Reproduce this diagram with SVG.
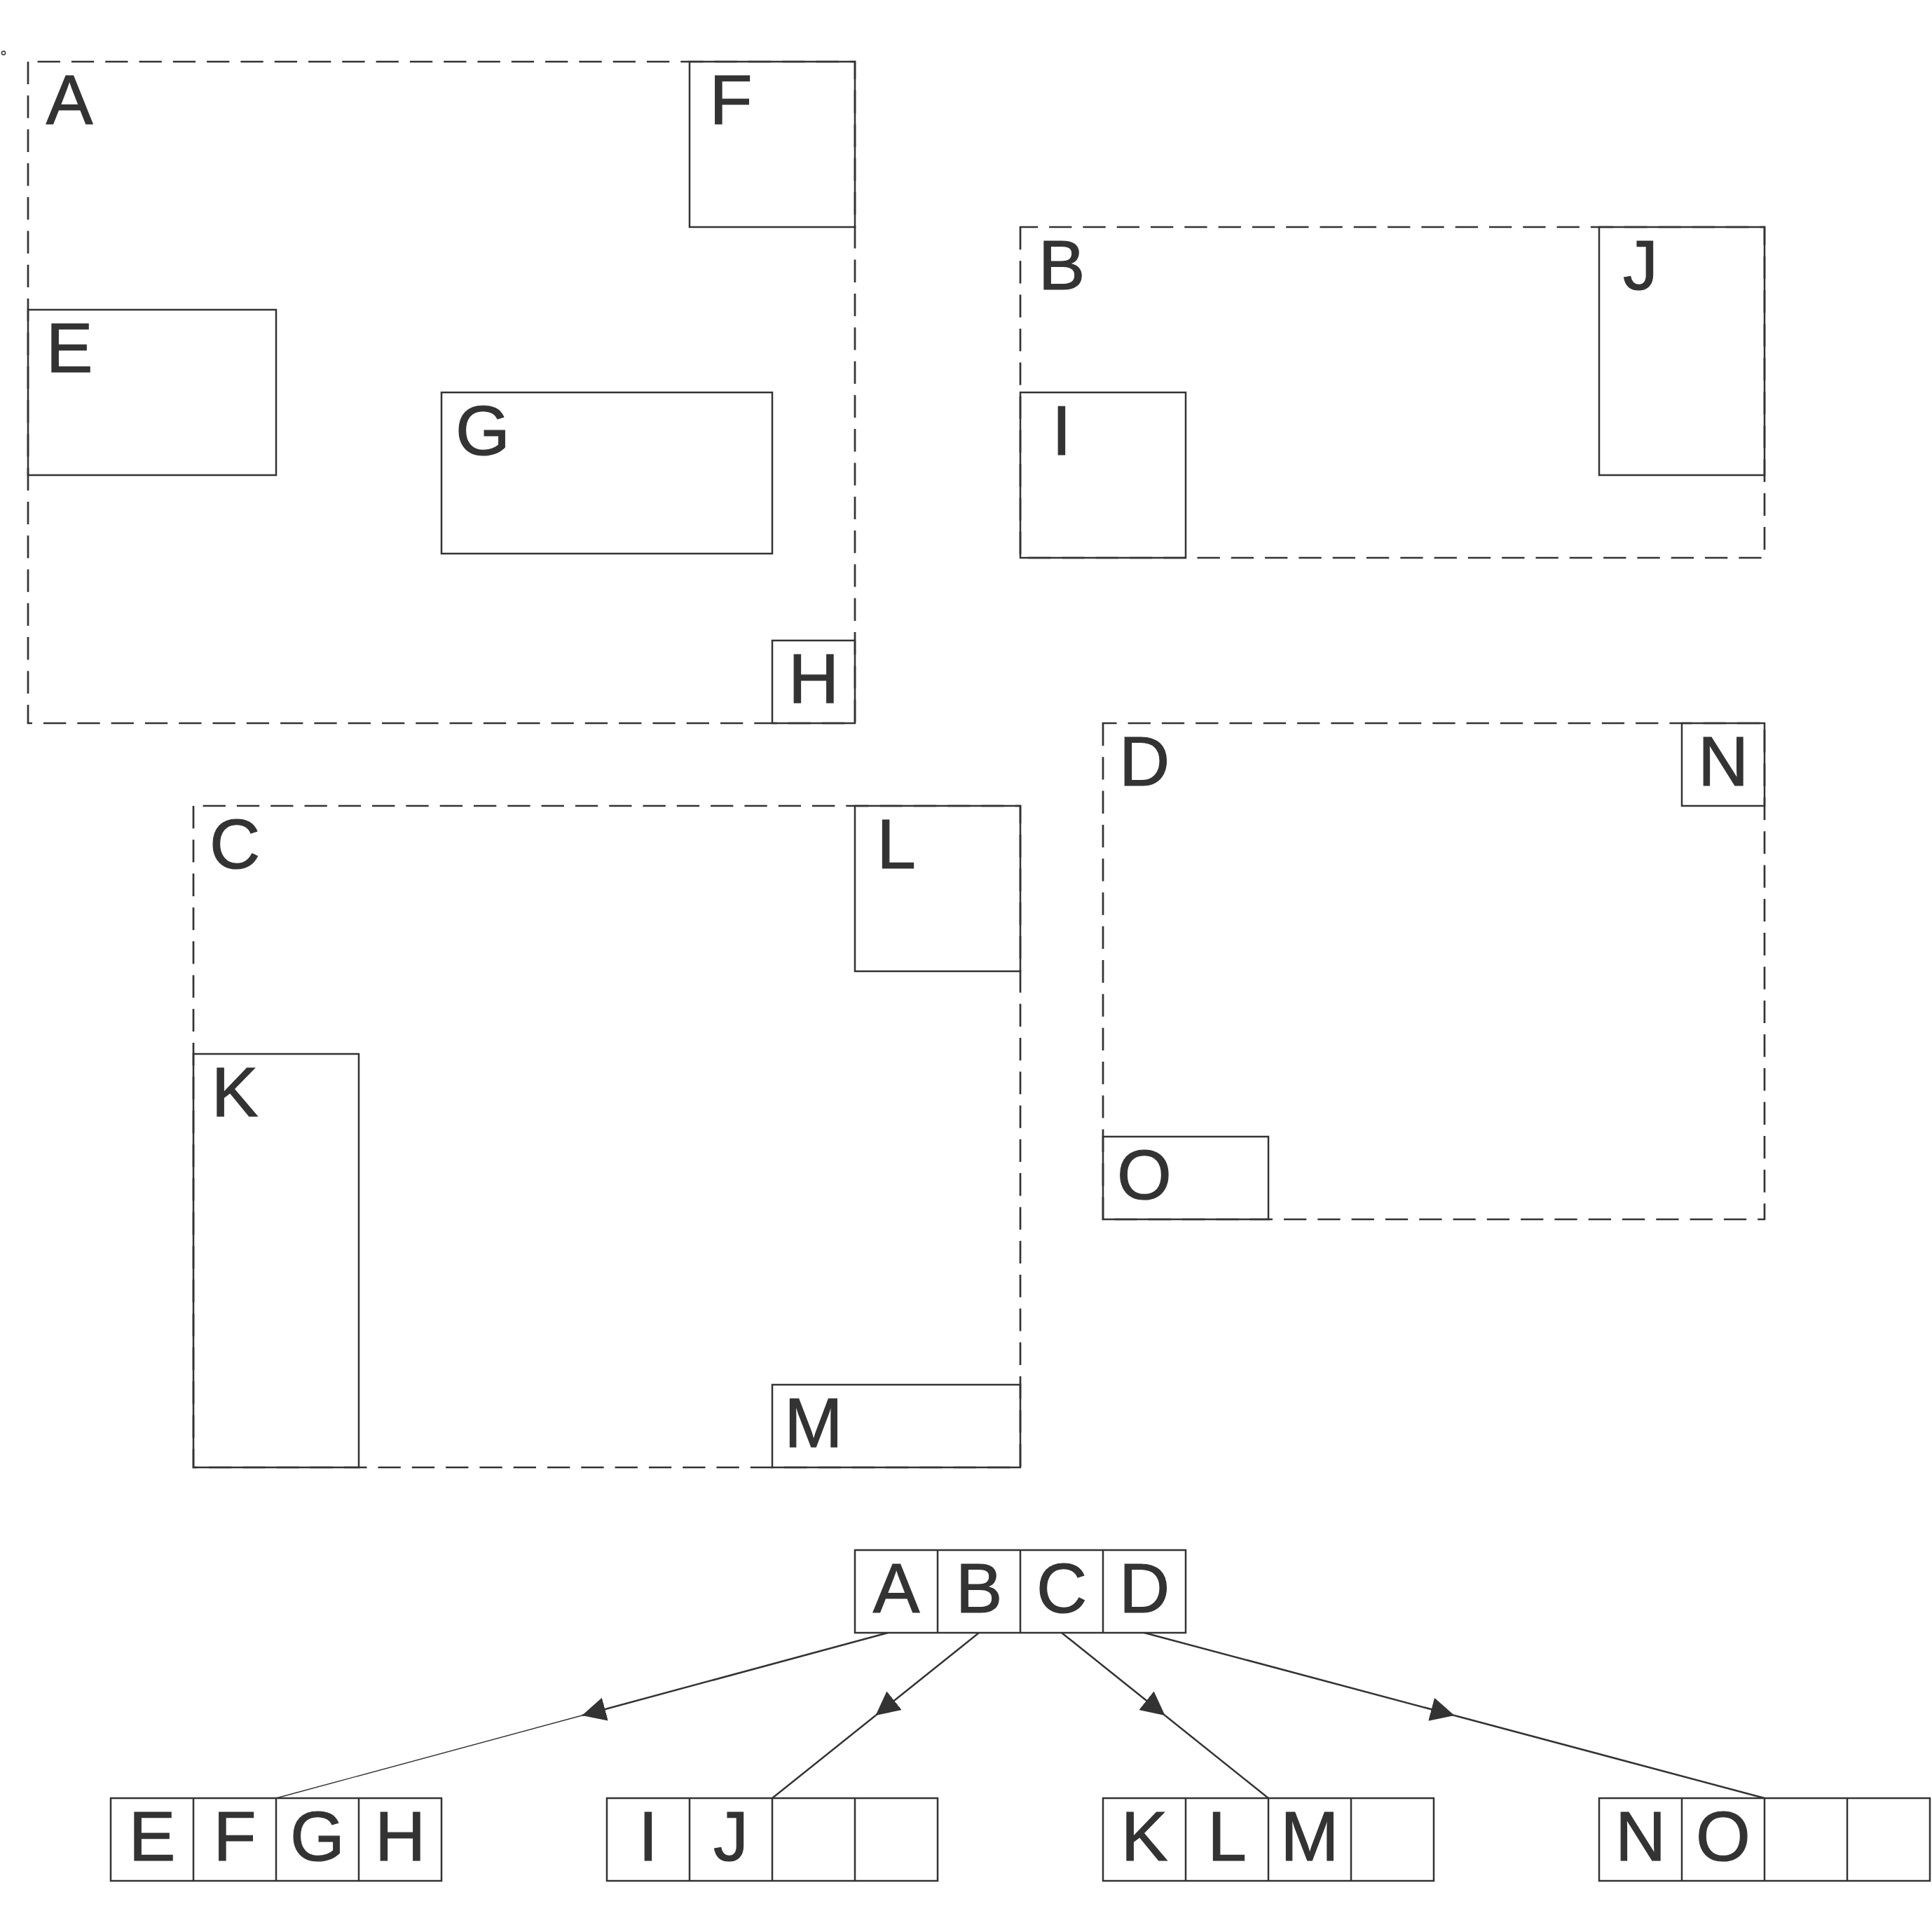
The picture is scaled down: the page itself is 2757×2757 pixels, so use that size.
<svg xmlns="http://www.w3.org/2000/svg" width="2757" height="2757" viewBox="0 0 2757 2757">
<style>
  .box{fill:none;stroke:#333;stroke-width:2.5}
  .dash{fill:none;stroke:#333;stroke-width:2.7;stroke-dasharray:32.3 16}
  .lbl{font-family:"Liberation Sans",Arial,sans-serif;font-size:100px;fill:#333;stroke:#333;stroke-width:1.2;text-anchor:middle}
  .edge{fill:none;stroke:#333;stroke-width:2.5}
  .thin{fill:none;stroke:#333;stroke-width:1.4}
</style>
<defs>
  <marker id="arr" markerUnits="userSpaceOnUse" viewBox="0 0 34 34" refX="34" refY="17" markerWidth="34" markerHeight="34" orient="auto">
    <path d="M0,0 L34,17 L0,34 Z" fill="#333"/>
  </marker>
</defs>
<rect width="2757" height="2757" fill="#fff"/>
<circle cx="5" cy="75.5" r="2.6" fill="none" stroke="#333" stroke-width="1.5"/>

<g id="A"><path class="dash" d="M40,88 V1032 H1220 V88 Z"/><text class="lbl" x="99" y="177">A</text></g>
<g id="B"><path class="dash" d="M1456,324 V796 H2518 V324 Z"/><text class="lbl" x="1515" y="413">B</text></g>
<g id="C"><path class="dash" d="M276,1150 V2094 H1456 V1150 Z"/><text class="lbl" x="335" y="1239">C</text></g>
<g id="D"><path class="dash" d="M1574,1032 V1740 H2518 V1032 Z"/><text class="lbl" x="1633" y="1121">D</text></g>

<g id="F"><rect class="box" x="984" y="88" width="236" height="236"/><text class="lbl" x="1043" y="177">F</text></g>
<g id="E"><rect class="box" x="40" y="442" width="354" height="236"/><text class="lbl" x="99" y="531">E</text></g>
<g id="G"><rect class="box" x="630" y="560" width="472" height="230"/><text class="lbl" x="689" y="649">G</text></g>
<g id="H"><rect class="box" x="1102" y="914" width="118" height="118"/><text class="lbl" x="1161" y="1003">H</text></g>
<g id="J"><rect class="box" x="2282" y="324" width="236" height="354"/><text class="lbl" x="2341" y="413">J</text></g>
<g id="I"><rect class="box" x="1456" y="560" width="236" height="236"/><text class="lbl" x="1515" y="649">I</text></g>
<g id="L"><rect class="box" x="1220" y="1150" width="236" height="236"/><text class="lbl" x="1279" y="1239">L</text></g>
<g id="K"><rect class="box" x="276" y="1504" width="236" height="590"/><text class="lbl" x="335" y="1593">K</text></g>
<g id="M"><rect class="box" x="1102" y="1976" width="354" height="118"/><text class="lbl" x="1161" y="2065">M</text></g>
<g id="N"><rect class="box" x="2400" y="1032" width="118" height="118"/><text class="lbl" x="2459" y="1121">N</text></g>
<g id="O"><rect class="box" x="1574" y="1622" width="236" height="118"/><text class="lbl" x="1633" y="1711">O</text></g>

<g id="root">
  <rect class="box" x="1220" y="2212" width="472" height="118"/>
  <path class="box" d="M1338,2212 V2330 M1456,2212 V2330 M1574,2212 V2330"/>
  <text class="lbl" x="1279" y="2301">A</text><text class="lbl" x="1397" y="2301">B</text>
  <text class="lbl" x="1515" y="2301">C</text><text class="lbl" x="1633" y="2301">D</text>
</g>
<g id="leafEFGH">
  <rect class="box" x="158" y="2566" width="472" height="118"/>
  <path class="box" d="M276,2566 V2684 M394,2566 V2684 M512,2566 V2684"/>
  <text class="lbl" x="217" y="2655">E</text><text class="lbl" x="335" y="2655">F</text>
  <text class="lbl" x="453" y="2655">G</text><text class="lbl" x="571" y="2655">H</text>
</g>
<g id="leafIJ">
  <rect class="box" x="866" y="2566" width="472" height="118"/>
  <path class="box" d="M984,2566 V2684 M1102,2566 V2684 M1220,2566 V2684"/>
  <text class="lbl" x="925" y="2655">I</text><text class="lbl" x="1043" y="2655">J</text>
</g>
<g id="leafKLM">
  <rect class="box" x="1574" y="2566" width="472" height="118"/>
  <path class="box" d="M1692,2566 V2684 M1810,2566 V2684 M1928,2566 V2684"/>
  <text class="lbl" x="1633" y="2655">K</text><text class="lbl" x="1751" y="2655">L</text>
  <text class="lbl" x="1869" y="2655">M</text>
</g>
<g id="leafNO">
  <rect class="box" x="2282" y="2566" width="472" height="118"/>
  <path class="box" d="M2400,2566 V2684 M2518,2566 V2684 M2636,2566 V2684"/>
  <text class="lbl" x="2341" y="2655">N</text><text class="lbl" x="2459" y="2655">O</text>
</g>

<g id="connectors">
  <line class="edge" x1="1267" y1="2330" x2="830.5" y2="2448" marker-end="url(#arr)"/>
  <line class="thin" x1="830.5" y1="2448" x2="394" y2="2566"/>
  <line class="edge" x1="1397" y1="2330" x2="1249.5" y2="2448" marker-end="url(#arr)"/>
  <line class="edge" x1="1249.5" y1="2448" x2="1102" y2="2566"/>
  <line class="edge" x1="1515" y1="2330" x2="1662.5" y2="2448" marker-end="url(#arr)"/>
  <line class="edge" x1="1662.5" y1="2448" x2="1810" y2="2566"/>
  <line class="edge" x1="1633" y1="2330" x2="2075.5" y2="2448" marker-end="url(#arr)"/>
  <line class="edge" x1="2075.5" y1="2448" x2="2518" y2="2566"/>
</g>
</svg>
